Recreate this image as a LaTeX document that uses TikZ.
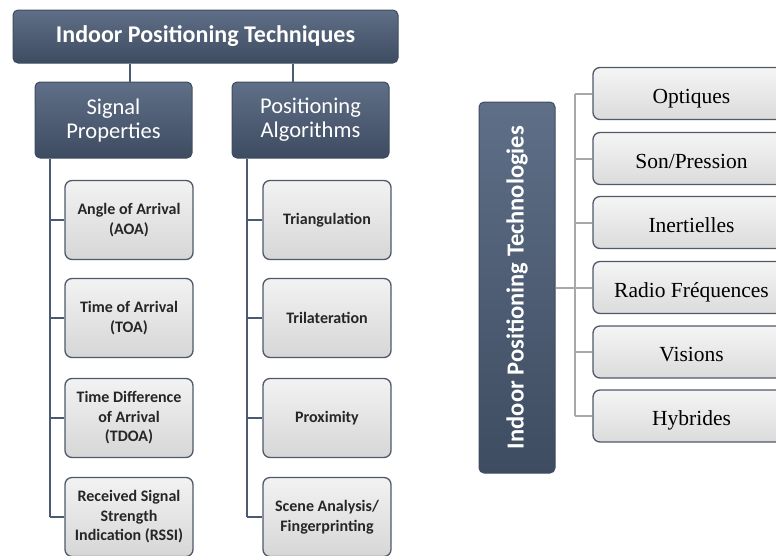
\documentclass[tikz,border=0pt]{standalone}
\usepackage{fontspec}
\setmainfont{Liberation Serif}
\setsansfont{Carlito}
\usetikzlibrary{positioning}
\definecolor{slate}{HTML}{4A5A70}
\definecolor{slatetop}{HTML}{5F6F87}
\definecolor{slatebot}{HTML}{3E4C61}
\definecolor{boxline}{HTML}{4F596A}
\definecolor{linkgray}{HTML}{A8A8A8}
\begin{document}
\begin{tikzpicture}[x=1pt,y=-1pt,
    darkbox/.style={draw=slatebot, line width=1pt, rounded corners=5pt,
      top color=slatetop, bottom color=slatebot, text=white,
      font=\sffamily\bfseries, align=center, inner sep=2pt},
    litebox/.style={draw=boxline, line width=1.3pt, rounded corners=7pt,
      top color=white!95!black, bottom color=white!84!black, text=black!85,
      font=\sffamily\bfseries\fontsize{16}{19.5}\selectfont, align=center,
      minimum width=128pt, minimum height=79pt, inner sep=1pt},
    frbox/.style={draw=boxline, line width=1.3pt, rounded corners=7pt,
      top color=white!96!black, bottom color=white!86!black, text=black,
      font=\fontsize{21.5}{24}\selectfont, minimum width=197pt,
      minimum height=52pt, inner sep=2pt, text height=19pt, text depth=0pt},
    darklink/.style={draw=slate, line width=2.3pt},
    greylink/.style={draw=linkgray, line width=2pt}]
  \useasboundingbox (0,0) rectangle (776,555);
  \clip (0,0) rectangle (776,555);
  % techniques
  \node[darkbox, minimum width=385pt, minimum height=53pt,
    font=\sffamily\bfseries\fontsize{24}{28}\selectfont] (tech) at (205.5,36.5)
    {Indoor Positioning Techniques};
  \node[darkbox, minimum width=157pt, minimum height=76pt,
    font=\sffamily\fontsize{22.5}{24}\selectfont] (sig) at (113.5,120)
    {Signal\\Properties};
  \node[darkbox, minimum width=157pt, minimum height=76pt,
    font=\sffamily\fontsize{22.5}{24}\selectfont] (algo) at (310.5,120)
    {Positioning\\Algorithms};
  \node[litebox] (aoa) at (129,220) {Angle of Arrival\\(AOA)};
  \node[litebox] (toa) at (129,318) {Time of Arrival\\(TOA)};
  \node[litebox] (tdoa) at (129,418) {Time Difference\\of Arrival\\(TDOA)};
  \node[litebox] (rssi) at (129,517) {Received Signal\\Strength\\Indication (RSSI)};
  \node[litebox] (tri) at (327,220) {Triangulation};
  \node[litebox] (tril) at (327,318) {Trilateration};
  \node[litebox] (prox) at (327,418) {Proximity};
  \node[litebox] (scene) at (327,517) {Scene Analysis/\\Fingerprinting};
  \coordinate (c1) at (130,0);
  \coordinate (c2) at (293,0);
  \coordinate (lt) at (50,0);
  \coordinate (rt) at (247,0);
  \draw[darklink] (tech.south -| c1) -- (sig.north -| c1);
  \draw[darklink] (tech.south -| c2) -- (algo.north -| c2);
  \draw[darklink] (sig.south -| lt) -- (rssi.west -| lt);
  \draw[darklink] (algo.south -| rt) -- (scene.west -| rt);
  \foreach \n in {aoa,toa,tdoa,rssi}
    \draw[darklink] (\n.west -| lt) -- (\n.west);
  \foreach \n in {tri,tril,prox,scene}
    \draw[darklink] (\n.west -| rt) -- (\n.west);
  % technologies
  \node[darkbox, minimum width=371pt, minimum height=76pt, rotate=90,
    font=\sffamily\bfseries\fontsize{24.5}{28}\selectfont] (techno) at (517,287.5)
    {Indoor Positioning Technologies};
  \node[frbox] (opt) at (691.5,93.5) {Optiques};
  \node[frbox] (son) at (691.5,158.5) {Son/Pression};
  \node[frbox] (iner) at (691.5,222.5) {Inertielles};
  \node[frbox] (radio) at (691.5,287.5) {Radio Fréquences};
  \node[frbox] (vis) at (691.5,352) {Visions};
  \node[frbox] (hyb) at (691.5,416) {Hybrides};
  \coordinate (tk) at (575,0);
  \draw[greylink] (techno.south) -- (techno.south -| tk);
  \draw[greylink] (opt.west -| tk) -- (hyb.west -| tk);
  \foreach \n in {opt,son,iner,radio,vis,hyb}
    \draw[greylink] (\n.west -| tk) -- (\n.west);
\end{tikzpicture}
\end{document}
